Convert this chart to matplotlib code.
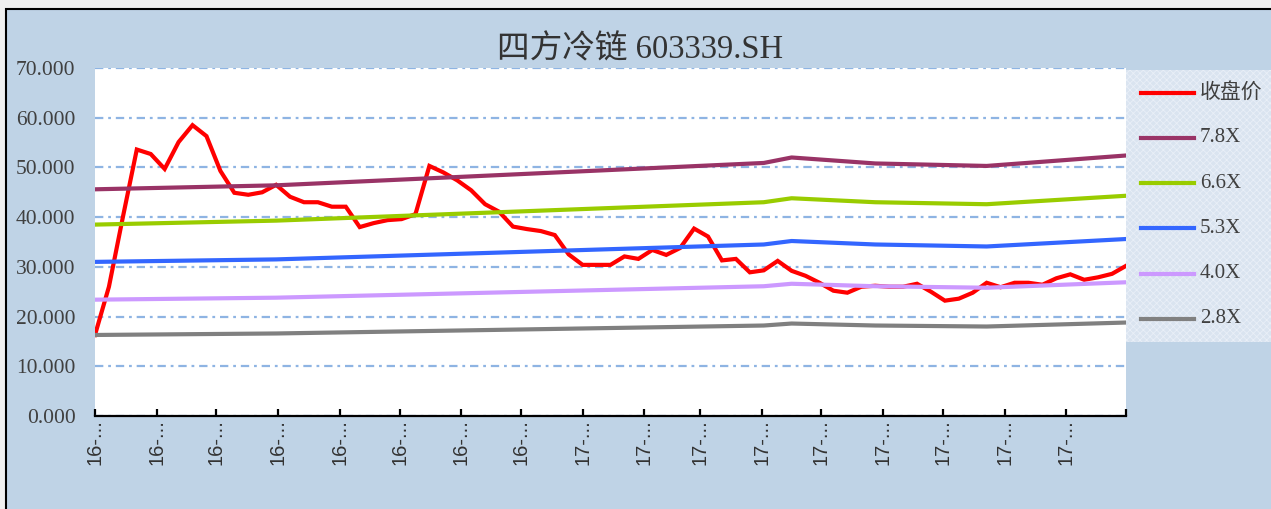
import matplotlib
matplotlib.use('Agg')
import matplotlib.pyplot as plt
import pandas as pd
from matplotlib.patches import Rectangle
from matplotlib.lines import Line2D
from matplotlib.ticker import MultipleLocator, FormatStrFormatter

plt.rcParams['lines.scale_dashes'] = False
plt.rcParams['hatch.linewidth'] = 0.6
plt.rcParams['font.family'] = ['Liberation Serif', 'Noto Sans CJK SC', 'DejaVu Sans']

# ---------------- data ----------------
title = '四方冷链 603339.SH'
start_date = '2016-05-01'

# weekly closing price
price = [16.3, 26.0, 40.0, 53.6, 52.7, 49.7, 55.1, 58.5, 56.3, 49.3,
         44.9, 44.5, 45.0, 46.5, 44.1, 43.0, 43.0, 42.1, 42.1, 38.0,
         38.8, 39.4, 39.6, 40.6, 50.3, 49.0, 47.4, 45.4, 42.6, 41.1,
         38.1, 37.6, 37.2, 36.4, 32.5, 30.4, 30.4, 30.4, 32.1, 31.6,
         33.4, 32.4, 33.8, 37.7, 36.1, 31.3, 31.6, 28.9, 29.3, 31.2,
         29.2, 28.2, 26.8, 25.2, 24.8, 26.0, 26.2, 26.0, 26.0, 26.6,
         25.0, 23.2, 23.6, 24.8, 26.8, 25.9, 26.8, 26.8, 26.4, 27.7,
         28.5, 27.4, 27.9, 28.6, 30.2]
price_dates = pd.date_range(start_date, periods=len(price), freq='7D')

# valuation bands (values at the dates where the bands change slope)
band_dates = pd.to_datetime(['2016-05-01', '2016-07-31', '2017-04-02', '2017-04-16',
                             '2017-05-28', '2017-07-23', '2017-10-01'])
band_78 = [45.6, 46.4, 50.9, 52.0, 50.8, 50.3, 52.4]
band_66 = [38.5, 39.3, 43.0, 43.8, 43.0, 42.6, 44.3]
band_53 = [31.0, 31.5, 34.5, 35.2, 34.5, 34.1, 35.6]
band_40 = [23.4, 23.8, 26.1, 26.6, 26.1, 25.8, 26.9]
band_28 = [16.3, 16.6, 18.2, 18.6, 18.2, 18.0, 18.8]

series_names = ['收盘价', '7.8X', '6.6X', '5.3X', '4.0X', '2.8X']
series_colors = ['#FF0000', '#993366', '#99CC00', '#3366FF', '#CC99FF', '#808080']

tick_dates = pd.date_range('2016-05-01', '2017-10-01', freq='MS')
tick_labels = [f'{d:%y}-...' for d in tick_dates[:-1]] + ['']

# ---------------- figure ----------------
W, H = 1271, 509
fig = plt.figure(figsize=(W / 100, H / 100), dpi=100)
fig.patch.set_facecolor('#F0F0F0')

bg = Rectangle((6 / W, -0.05), 1.2, 1 - 9 / H + 0.05, transform=fig.transFigure,
               facecolor='#BFD3E6', edgecolor='black', linewidth=1.5, zorder=-10)
fig.patches.append(bg)

ax = fig.add_axes([95 / W, 1 - 416 / H, (1126 - 95) / W, (416 - 68) / H])
ax.set_facecolor('white')

ax.plot(price_dates, price, color=series_colors[0], lw=3.0, zorder=3, solid_joinstyle='miter')
bands = [band_78, band_66, band_53, band_40, band_28]
for i, b in enumerate(bands):
    ax.plot(band_dates, b, color=series_colors[i + 1], lw=3.0, zorder=4 + i)

ax.set_ylim(0, 70)
ax.set_xlim(price_dates[0], price_dates[-1])

for s in ['top', 'right', 'left']:
    ax.spines[s].set_visible(False)
ax.spines['bottom'].set_linewidth(1.6)
ax.spines['bottom'].set_zorder(20)

ax.yaxis.set_major_locator(MultipleLocator(10))
ax.yaxis.set_major_formatter(FormatStrFormatter('%.3f'))
ax.tick_params(axis='y', length=0, pad=14, labelsize=15.5, labelcolor='#404040')

ax.set_xticks(tick_dates)
ax.set_xticklabels(tick_labels, family='Liberation Sans')
ax.tick_params(axis='x', direction='in', length=5, width=1.6, labelrotation=90,
               labelsize=14.5, labelcolor='#333333', pad=2)

ax.grid(axis='y', color='#8EB4E3', lw=1.6, linestyle=(0, (6, 3.5, 2, 3.5)))
ax.grid(axis='x', visible=False)
ax.set_axisbelow(True)

# title
fig.text(640 / W, 1 - 50 / H, title, ha='center', va='center', fontsize=23.5, color='#333333')

# legend box
leg_bg = Rectangle((1126 / W, 1 - 342 / H), 0.2, (342 - 70) / H, transform=fig.transFigure,
                   facecolor='#DAE4F0', edgecolor='#E9EFF7', linewidth=0,
                   hatch='xxxxx', zorder=1)
fig.patches.append(leg_bg)
for i, (name, color) in enumerate(zip(series_names, series_colors)):
    y = 1 - (92.7 + 45.2 * i) / H
    fig.add_artist(Line2D([1141 / W, 1194 / W], [y, y], color=color, lw=3.0,
                          transform=fig.transFigure, zorder=3))
    fig.text(1200 / W, y, name, ha='left', va='center', fontsize=15, color='#404040', zorder=3)

fig.savefig('out.png', dpi=100, facecolor=fig.get_facecolor())
